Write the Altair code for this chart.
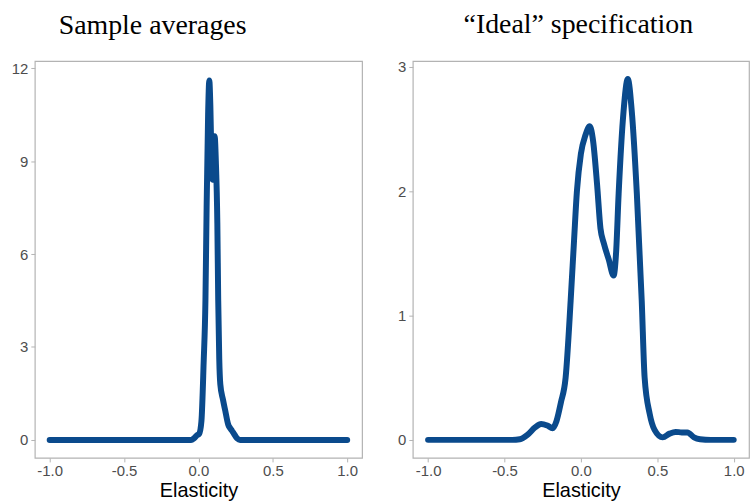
import altair as alt
import pandas as pd

# Density of estimated elasticities: sample averages
avg_x = [-1.0, -0.5, -0.05, -0.03, -0.01, 0.005, 0.02, 0.035, 0.047, 0.055, 0.065,
         0.073, 0.08, 0.088, 0.095, 0.102, 0.109, 0.117, 0.127, 0.133, 0.14, 0.147,
         0.165, 0.18, 0.2, 0.213, 0.225, 0.236, 0.26, 0.28, 0.5, 1.0]
avg_y = [0.0, 0.0, 0.0, 0.05, 0.15, 0.2, 0.6, 2.5, 4.5, 7.5, 10.5,
         11.6, 10.8, 9.0, 8.4, 9.4, 9.8, 9.0, 7.0, 4.5, 2.6, 1.8,
         1.3, 0.95, 0.5, 0.38, 0.3, 0.22, 0.05, 0.0, 0.0, 0.0]

# Density of estimated elasticities: "ideal" specification
ideal_x = [-1.0, -0.5, -0.45, -0.4, -0.35, -0.3, -0.26, -0.22, -0.185, -0.16, -0.131,
           -0.1, -0.067, -0.045, -0.026, 0.0, 0.03, 0.058, 0.08, 0.106, 0.128, 0.15,
           0.182, 0.214, 0.23, 0.247, 0.279, 0.307, 0.333, 0.366, 0.398, 0.417, 0.45,
           0.482, 0.535, 0.58, 0.62, 0.66, 0.697, 0.74, 0.78, 0.85, 1.0]
ideal_y = [0.0, 0.0, 0.0, 0.005, 0.04, 0.1, 0.128, 0.115, 0.093, 0.15, 0.3,
           0.5, 1.12, 1.6, 2.0, 2.3, 2.45, 2.52, 2.4, 2.05, 1.7, 1.58,
           1.45, 1.32, 1.5, 1.98, 2.64, 2.9, 2.64, 1.98, 1.12, 0.5, 0.21,
           0.08, 0.02, 0.05, 0.064, 0.06, 0.06, 0.02, 0.005, 0.0, 0.0]

x_ticks = [-1.0, -0.5, 0.0, 0.5, 1.0]
avg_ticks = [0, 3, 6, 9, 12]
ideal_ticks = [0, 1, 2, 3]

LINE = "#0a4a8c"
FRAME = "#b3b3b3"
LABEL = "#4d4d4d"

# plain hyphen for negative tick labels
X_LABEL = "(datum.value < 0 ? '-' : '') + format(abs(datum.value), '.1f')"


def panel(xs, ys, title, y_domain, y_ticks, width, title_dx):
    df = pd.DataFrame({"x": xs, "y": ys})
    return (
        alt.Chart(df, title=alt.TitleParams(
            title, font="Liberation Serif", fontSize=28, fontWeight="normal",
            color="black", anchor="start", frame="group", dx=title_dx, offset=21))
        .mark_line(color=LINE, strokeWidth=6, interpolate="monotone",
                   strokeCap="round", strokeJoin="round")
        .encode(
            x=alt.X("x:Q", title="Elasticity",
                    scale=alt.Scale(domain=[-1.1, 1.1], nice=False, zero=False),
                    axis=alt.Axis(values=x_ticks, labelExpr=X_LABEL)),
            y=alt.Y("y:Q", title=None,
                    scale=alt.Scale(domain=y_domain, nice=False, zero=False),
                    axis=alt.Axis(values=y_ticks, format="d")),
        )
        .properties(width=width, height=399)
    )


left = panel(avg_x, avg_y, "Sample averages", [-0.58, 12.23], avg_ticks, 329, 24)
right = panel(ideal_x, ideal_y, "\u201cIdeal\u201d specification", [-0.145, 3.045],
              ideal_ticks, 338, 51)

chart = (
    alt.hconcat(left, right, spacing=34)
    .resolve_scale(y="independent")
    .properties(padding={"left": 10, "top": 9, "right": 0, "bottom": 0},
                background="white")
    .configure_view(stroke=FRAME, strokeWidth=1.2)
    .configure_axis(
        grid=False, domain=False, tickColor=FRAME, tickSize=4, tickWidth=1,
        labelFont="Liberation Sans", labelFontSize=15, labelColor=LABEL,
        labelPadding=2, titleFont="Liberation Sans", titleFontSize=20,
        titleFontWeight="normal", titleColor="black", titlePadding=2,
    )
    .configure_axisY(labelPadding=3)
)

chart.save("out.html", embed_options={"renderer": "svg", "actions": False})
